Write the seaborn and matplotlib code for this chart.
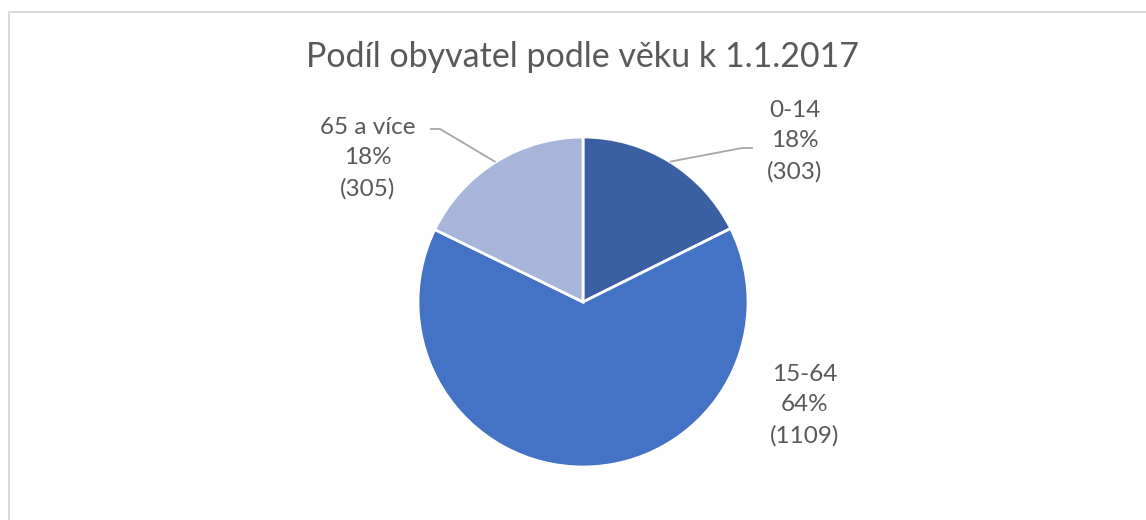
import numpy as np
import matplotlib
matplotlib.use("Agg")
import matplotlib.pyplot as plt
import seaborn as sns

categories = ["0-14", "15-64", "65 a více"]
values = [303, 1109, 305]
percent_labels = ["18%", "64%", "18%"]
colors = ["#3A5FA2", "#4472C4", "#A7B5DA"]
title = "Podíl obyvatel podle věku k 1.1.2017"

sns.set_theme(style="white")
plt.rcParams['font.family'] = ['Lato', 'DejaVu Sans']

W, H = 1146, 520
fig = plt.figure(figsize=(W / 100, H / 100), dpi=100)
ax = fig.add_axes([0, 0, 1, 1])

cx, cy, r = 583, H - 302, 165
wedges, _ = ax.pie(values, colors=colors, startangle=90, counterclock=False,
                   center=(cx, cy), radius=r, frame=True,
                   wedgeprops=dict(edgecolor="white", linewidth=2))
ax.set_xlim(0, W)
ax.set_ylim(0, H)
ax.set_aspect('equal')
ax.axis('off')

text_color = "#595959"
line_color = "#A6A6A6"

# label layout: text center x, middle line y (px from top), elbow point, horizontal end
layouts = [
    dict(tx=795, ty=141, elbow=(742, 148), end=(753, 148)),
    dict(tx=805, ty=405, elbow=None, end=None),
    dict(tx=368, ty=158, elbow=(440, 129), end=(430, 129)),
]
for w, cat, pct, val, lay in zip(wedges, categories, percent_labels, values, layouts):
    label = f"{cat}\n{pct}\n({val})"
    ax.text(lay["tx"], H - lay["ty"], label, ha="center", va="center",
            multialignment="center", fontsize=17.5, color=text_color,
            linespacing=1.55)
    if lay["elbow"] is not None:
        mid = np.deg2rad((w.theta1 + w.theta2) / 2)
        px = cx + r * np.cos(mid)
        py = cy + r * np.sin(mid)
        ex, ey = lay["elbow"]
        hx, hy = lay["end"]
        ax.plot([px, ex, hx], [py, H - ey, H - hy], color=line_color, lw=1.3,
                solid_capstyle="butt")

ax.text(cx, H - 57, title, ha="center", va="center", fontsize=24.5, color=text_color)

# chart border (top and left visible)
ax.plot([9, 9, W + 5], [-5, H - 12, H - 12], color="#D9D9D9", lw=1.5, clip_on=False)

fig.savefig("out.png", dpi=100)
